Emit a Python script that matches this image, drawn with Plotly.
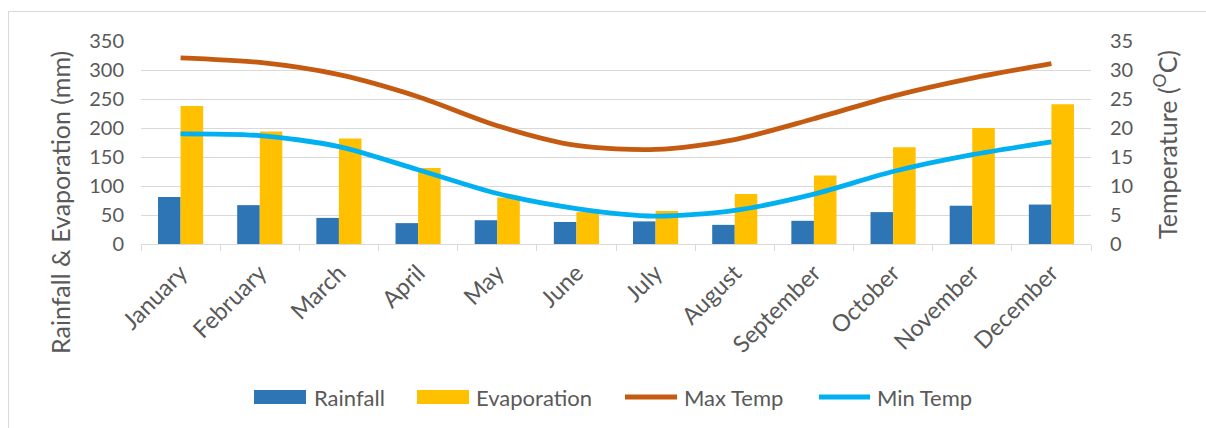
import plotly.graph_objects as go

months = ["January", "February", "March", "April", "May", "June", "July",
          "August", "September", "October", "November", "December"]
rainfall = [81, 67, 45, 36, 41, 38, 39, 33, 40, 55, 66, 68]
evaporation = [238, 194, 182, 131, 80, 55, 57, 86, 118, 167, 200, 241]
max_temp = [32.1, 31.3, 29.2, 25.4, 20.4, 17.0, 16.3, 18.0, 21.6, 25.5, 28.6, 31.1]
min_temp = [19.0, 18.7, 16.8, 12.8, 8.7, 6.1, 4.8, 5.8, 8.6, 12.5, 15.4, 17.6]

series_names = ["Rainfall", "Evaporation", "Max Temp", "Min Temp"]
series_colors = ["#2E75B6", "#FFC000", "#C55A11", "#00B0F0"]

W, H = 1206, 428
L, R, T, B = 141, 1091, 41, 244  # plot area in pixels

def px_x(x):
    return (x - L) / (R - L)

def px_y(y):
    return (B - y) / (B - T)

FONT = "Lato, 'Open Sans', sans-serif"
TXT = "#595959"
GRID = "#D9D9D9"

fig = go.Figure()
fig.add_trace(go.Bar(x=months, y=rainfall, name=series_names[0], marker_color=series_colors[0],
                     marker_line_width=0))
fig.add_trace(go.Bar(x=months, y=evaporation, name=series_names[1], marker_color=series_colors[1],
                     marker_line_width=0))
fig.add_trace(go.Scatter(x=months, y=max_temp, name=series_names[2], yaxis="y2", mode="lines",
                         line=dict(color=series_colors[2], width=4.8, shape="spline", smoothing=0.8)))
fig.add_trace(go.Scatter(x=months, y=min_temp, name=series_names[3], yaxis="y2", mode="lines",
                         line=dict(color=series_colors[3], width=4.8, shape="spline", smoothing=0.8)))

# custom legend (pixel layout)
leg_y = 397
leg_items = [  # (kind, swatch x0, swatch x1, text x)
    ("bar", 254, 306, 312),
    ("bar", 417, 469, 474),
    ("line", 623, 679, 682),
    ("line", 817, 872, 875),
]
shapes = [
    dict(type="rect", xref="paper", yref="paper", x0=px_x(8.5), y0=px_y(440),
         x1=px_x(1220), y1=px_y(11.5), line=dict(color=GRID, width=1), layer="below"),
]
annotations = [
    dict(text="Rainfall & Evaporation (mm)", textangle=-90, xref="paper", yref="paper",
         x=px_x(60), y=px_y(203), xanchor="center", yanchor="middle", showarrow=False,
         font=dict(size=25, color=TXT)),
    dict(text="Temperature (<sup>O</sup>C)", textangle=-90, xref="paper", yref="paper",
         x=px_x(1165), y=px_y(145), xanchor="center", yanchor="middle", showarrow=False,
         font=dict(size=25, color=TXT)),
]
for (kind, x0, x1, tx), name, col in zip(leg_items, series_names, series_colors):
    if kind == "bar":
        shapes.append(dict(type="rect", xref="paper", yref="paper", x0=px_x(x0), x1=px_x(x1),
                           y0=px_y(leg_y + 7), y1=px_y(leg_y - 7), fillcolor=col,
                           line=dict(width=0)))
    else:
        shapes.append(dict(type="line", xref="paper", yref="paper", x0=px_x(x0 + 2), x1=px_x(x1 - 2),
                           y0=px_y(leg_y), y1=px_y(leg_y), line=dict(color=col, width=5)))
    annotations.append(dict(text=name, xref="paper", yref="paper", x=px_x(tx), y=px_y(leg_y),
                            xanchor="left", yanchor="middle", showarrow=False,
                            font=dict(size=22, color=TXT)))

fig.update_layout(
    width=W, height=H,
    margin=dict(l=L, r=W - R, t=T, b=H - B, pad=0),
    paper_bgcolor="white", plot_bgcolor="white",
    font=dict(family=FONT, size=20, color=TXT),
    barmode="group", bargap=0.43, bargroupgap=0,
    showlegend=False,
    xaxis=dict(type="category", showgrid=False, showline=True, linecolor=GRID, linewidth=1,
               ticks="outside", tickson="boundaries", ticklen=6, tickcolor=GRID,
               tickangle=-45, tickfont=dict(size=23.5, color=TXT), range=[-0.5, 11.5],
               ticklabelstandoff=5),
    yaxis=dict(range=[0, 350], dtick=50, showgrid=True, gridcolor=GRID, gridwidth=1,
               zeroline=False, showline=False, ticks="", tickfont=dict(size=20, color=TXT),
               ticklabelstandoff=16),
    yaxis2=dict(range=[0, 35], dtick=5, overlaying="y", side="right", showgrid=False,
                zeroline=False, showline=False, ticks="", tickfont=dict(size=20, color=TXT),
                ticklabelstandoff=18),
    annotations=annotations,
    shapes=shapes,
)

fig.write_html("out.html")
